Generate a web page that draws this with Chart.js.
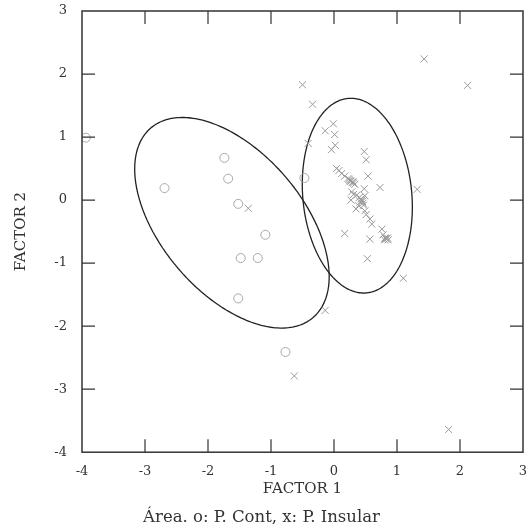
<!DOCTYPE html>
<html>
<head>
<meta charset="utf-8">
<script src="https://cdn.jsdelivr.net/npm/chart.js@4.4.1/dist/chart.umd.min.js"></script>
<style>
  html, body { margin: 0; padding: 0; background: #fff; }
</style>
</head>
<body>
<canvas id="scatterChart" width="532" height="528"></canvas>
<script>
// P. Cont (o)
const contX = [-3.94, -1.74, -2.69, -1.68, -1.52, -0.47, -1.09, -1.48, -1.21, -1.52, -0.77];
const contY = [0.99, 0.67, 0.19, 0.34, -0.06, 0.35, -0.55, -0.92, -0.92, -1.56, -2.41];

// P. Insular (x)
const insX = [-0.50, 1.43, 2.12, -1.36, -0.63, -0.14, 1.82, 1.10, 1.32,
  -0.34, -0.01, -0.14, 0.01, -0.41, 0.02, -0.04, 0.48, 0.51, 0.54, 0.73,
  0.04, 0.08, 0.12, 0.17, 0.22, 0.25, 0.27, 0.29, 0.31, 0.33, 0.28, 0.31,
  0.36, 0.40, 0.44, 0.42, 0.46, 0.48, 0.49, 0.27, 0.39, 0.35, 0.49, 0.51,
  0.57, 0.60, 0.76, 0.78, 0.81, 0.83, 0.86, 0.57, 0.17, 0.53,
  0.26, 0.30, 0.24, 0.45, 0.43, 0.47, 0.82, 0.85, 0.80];
const insY = [1.83, 2.24, 1.82, -0.13, -2.79, -1.75, -3.64, -1.24, 0.17,
  1.52, 1.21, 1.10, 1.04, 0.90, 0.87, 0.80, 0.77, 0.64, 0.38, 0.20,
  0.50, 0.47, 0.42, 0.38, 0.34, 0.31, 0.30, 0.28, 0.27, 0.25, 0.13, 0.09,
  0.08, 0.04, 0.00, -0.03, -0.05, 0.18, 0.07, 0.00, -0.09, -0.14, -0.17, -0.23,
  -0.30, -0.38, -0.46, -0.55, -0.60, -0.62, -0.63, -0.62, -0.53, -0.93,
  0.30, 0.29, 0.33, -0.02, 0.02, -0.08, -0.61, -0.60, -0.63];

// confidence ellipses: center x, center y, semi-major, semi-minor, angle (deg)
const ellipseCont = [-1.62, -0.36, 1.98, 1.12, 130.6];
const ellipseIns = [0.37, 0.07, 1.55, 0.865, 95.5];

const xTicks = [-4, -3, -2, -1, 0, 1, 2, 3];
const yTicks = [3, 2, 1, 0, -1, -2, -3, -4];

const FONT = "'DejaVu Serif', 'Liberation Serif', serif";
const TEXT = "#333";

function toPoints(xs, ys) {
  return xs.map((x, i) => ({ x: x, y: ys[i] }));
}

function ellipsePoints(e) {
  const [cx, cy, a, b, deg] = e;
  const t = deg * Math.PI / 180;
  const pts = [];
  for (let i = 0; i <= 120; i++) {
    const s = (i / 120) * 2 * Math.PI;
    const u = a * Math.cos(s);
    const v = b * Math.sin(s);
    pts.push({ x: cx + u * Math.cos(t) - v * Math.sin(t), y: cy + u * Math.sin(t) + v * Math.cos(t) });
  }
  return pts;
}

// frame + inward tick marks on all four sides
const framePlugin = {
  id: "frame",
  afterDraw(chart) {
    const { ctx, chartArea: a, scales } = chart;
    ctx.save();
    ctx.strokeStyle = "#333";
    ctx.lineWidth = 1.5;
    ctx.strokeRect(a.left, a.top, a.right - a.left, a.bottom - a.top);
    ctx.lineWidth = 1.2;
    const len = 13;
    ctx.beginPath();
    xTicks.slice(1, -1).forEach(v => {
      const px = scales.x.getPixelForValue(v);
      ctx.moveTo(px, a.bottom); ctx.lineTo(px, a.bottom - len);
      ctx.moveTo(px, a.top); ctx.lineTo(px, a.top + len);
    });
    yTicks.slice(1, -1).forEach(v => {
      const py = scales.y.getPixelForValue(v);
      ctx.moveTo(a.left, py); ctx.lineTo(a.left + len, py);
      ctx.moveTo(a.right, py); ctx.lineTo(a.right - len, py);
    });
    ctx.stroke();
    ctx.restore();
  }
};

const ctx = document.getElementById("scatterChart").getContext("2d");

new Chart(ctx, {
  type: "scatter",
  data: {
    datasets: [
      {
        label: "P. Cont",
        data: toPoints(contX, contY),
        pointStyle: "circle",
        pointRadius: 4.5,
        borderColor: "#a8a8a8",
        backgroundColor: "rgba(0,0,0,0)",
        borderWidth: 1
      },
      {
        label: "P. Insular",
        data: toPoints(insX, insY),
        pointStyle: "crossRot",
        pointRadius: 5,
        borderColor: "#999",
        borderWidth: 1
      },
      {
        label: "Elipse Cont",
        data: ellipsePoints(ellipseCont),
        showLine: true,
        pointRadius: 0,
        borderColor: "#222",
        borderWidth: 1.3,
        tension: 0.01
      },
      {
        label: "Elipse Insular",
        data: ellipsePoints(ellipseIns),
        showLine: true,
        pointRadius: 0,
        borderColor: "#222",
        borderWidth: 1.3,
        tension: 0.01
      }
    ]
  },
  options: {
    responsive: false,
    animation: false,
    devicePixelRatio: 1,
    layout: { padding: { top: 11, right: 9, left: 0, bottom: 0 } },
    plugins: {
      legend: { display: false },
      tooltip: { enabled: false },
      title: {
        display: true,
        position: "bottom",
        text: "Área. o: P. Cont, x: P. Insular",
        color: TEXT,
        font: { family: FONT, size: 16.5, weight: "normal" },
        padding: { top: 10, bottom: 0 }
      }
    },
    scales: {
      x: {
        type: "linear",
        min: -4,
        max: 3,
        afterBuildTicks: s => { s.ticks = xTicks.map(v => ({ value: v })); },
        afterFit: s => { s.height = 46; s.paddingLeft = 0; s.paddingRight = 0; },
        grid: { display: false },
        border: { display: false },
        ticks: { color: TEXT, font: { family: FONT, size: 13 }, padding: 4, maxRotation: 0 },
        title: { display: true, text: "FACTOR 1", color: TEXT, font: { family: FONT, size: 15 }, padding: { top: 0, bottom: 0 } }
      },
      y: {
        type: "linear",
        min: -4,
        max: 3,
        afterBuildTicks: s => { s.ticks = yTicks.map(v => ({ value: v })); },
        afterFit: s => { s.width = 82; s.paddingTop = 0; s.paddingBottom = 0; },
        grid: { display: false },
        border: { display: false },
        ticks: { color: TEXT, font: { family: FONT, size: 13 }, padding: 7 },
        title: { display: true, text: "FACTOR 2", color: TEXT, font: { family: FONT, size: 15 }, padding: { top: 12, bottom: 0 } }
      }
    }
  },
  plugins: [framePlugin]
});
</script>
</body>
</html>
